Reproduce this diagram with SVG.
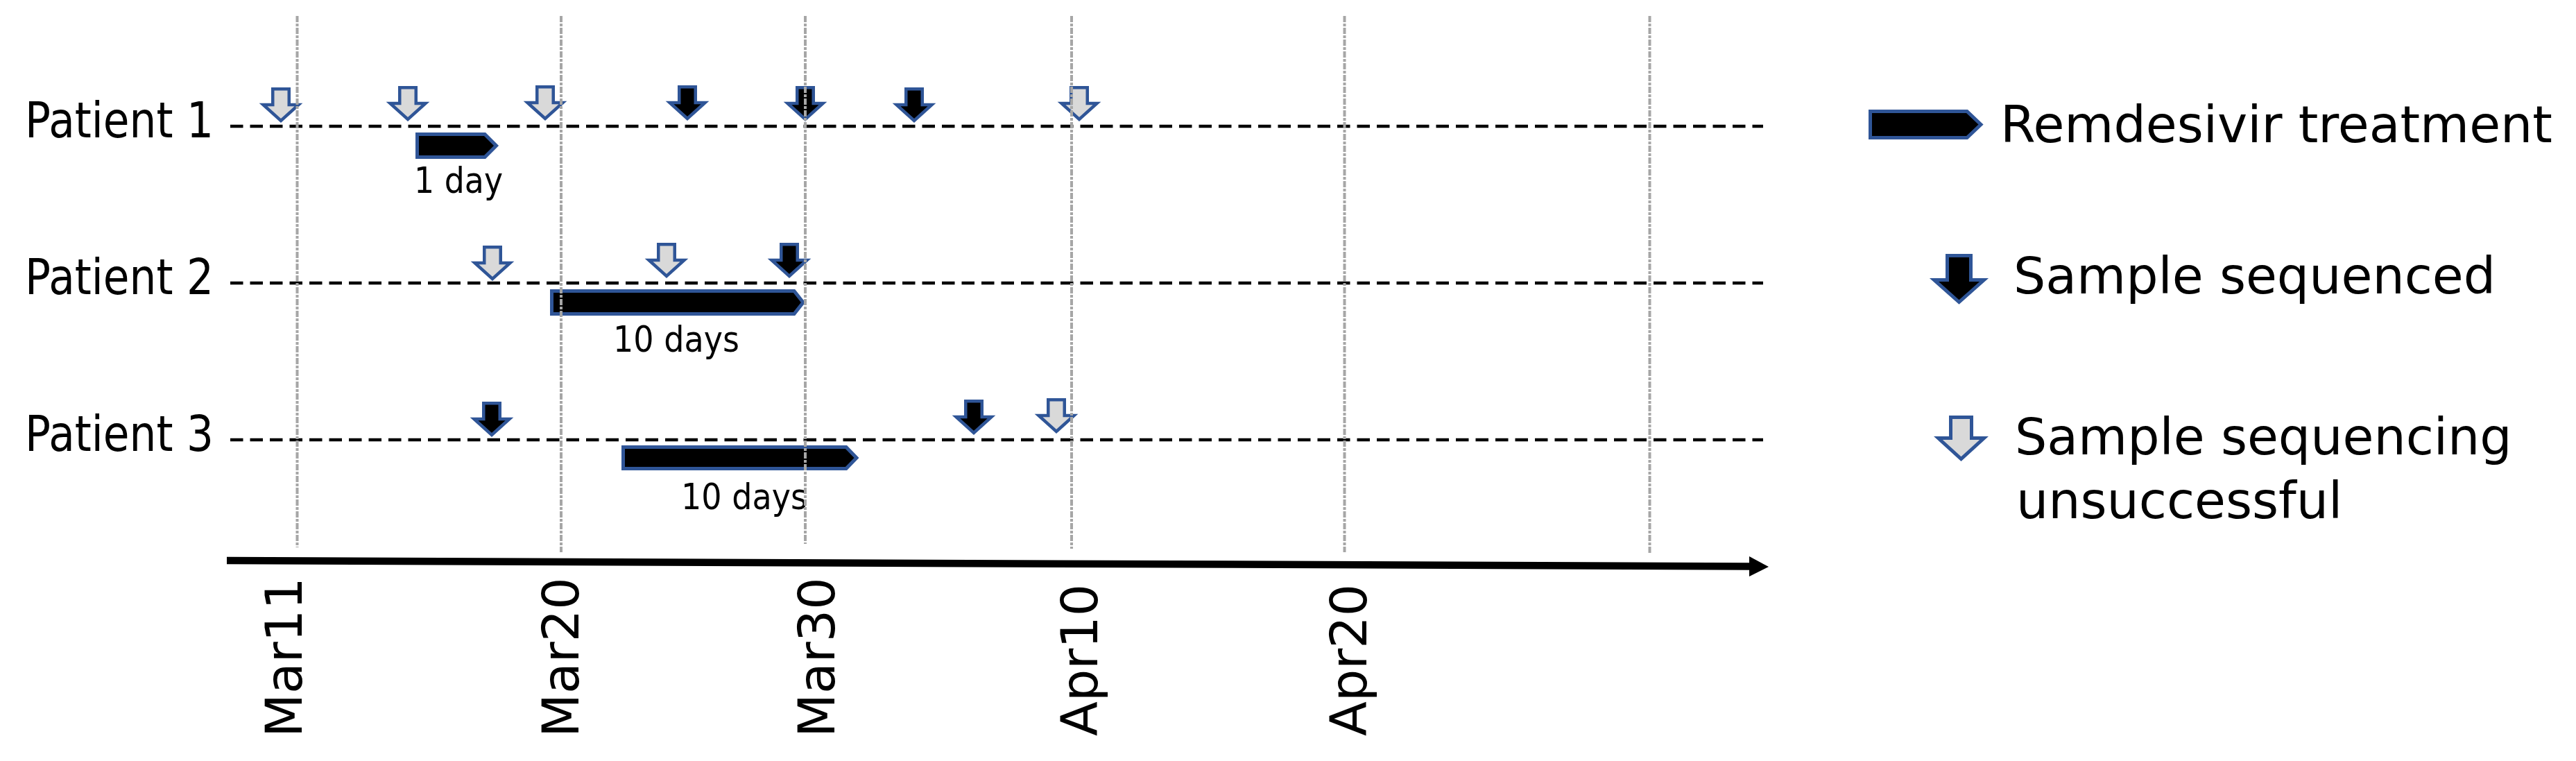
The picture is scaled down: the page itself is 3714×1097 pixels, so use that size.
<svg xmlns="http://www.w3.org/2000/svg" xmlns:xlink="http://www.w3.org/1999/xlink" width="3714" height="1097" viewBox="0 0 3714 1097">
<style>
.lbl{font-family:"DejaVu Sans","Verdana",sans-serif;fill:#000}
.pat{font-family:"DejaVu Sans","Verdana",sans-serif;font-size:72px;fill:#000}
.dur{font-family:"DejaVu Sans","Verdana",sans-serif;font-size:51px;fill:#000}
.date{font-family:"DejaVu Sans","Verdana",sans-serif;font-size:73px;fill:#000}
.leg{font-family:"DejaVu Sans","Verdana",sans-serif;font-size:73px;fill:#000}
.row{stroke:#000;stroke-width:4.3;stroke-dasharray:18.5 10;fill:none}
.grid{stroke:#a6a6a6;stroke-width:4;stroke-dasharray:9 2 4 2;fill:none}
.ok{fill:#000;stroke:#2f5597;stroke-width:4.5;stroke-linejoin:miter}
.fail{fill:#d9d9d9;stroke:#2f5597;stroke-width:4.5;stroke-linejoin:miter}
.bar{fill:#000;stroke:#2f5597;stroke-width:5;stroke-linejoin:miter}
</style>
<defs>
<path id="arr" d="M -11.75,-48.75 H 11.75 V -26 H 25.5 L 0,-3 L -25.5,-26 H -11.75 Z"/>
</defs>
<rect width="3714" height="1097" fill="#fff"/>

<g id="connectors">
<line class="row" x1="332" y1="182" x2="2542" y2="182"/>
<line class="row" x1="332" y1="408" x2="2542" y2="408"/>
<line class="row" x1="332" y1="634" x2="2542" y2="634"/>
<line x1="327" y1="808" x2="2524" y2="816.5" stroke="#000" stroke-width="10.5"/>
<polygon points="2522,802 2550,817 2522,831" fill="#000"/>
</g>

<g id="patient1">
<text class="pat" x="36" y="198" textLength="272" lengthAdjust="spacingAndGlyphs">Patient 1</text>
<use xlink:href="#arr" class="fail" x="405" y="177"/>
<use xlink:href="#arr" class="fail" x="588" y="175"/>
<use xlink:href="#arr" class="fail" x="786" y="174"/>
<use xlink:href="#arr" class="ok" x="991" y="174"/>
<use xlink:href="#arr" class="ok" x="1161" y="175"/>
<use xlink:href="#arr" class="ok" x="1318" y="177"/>
<use xlink:href="#arr" class="fail" x="1556" y="175"/>
<path class="bar" d="M 601.5,193.5 H 699 L 715.5,210 L 699,226.5 H 601.5 Z"/>
<text class="dur" x="597" y="278" textLength="128" lengthAdjust="spacingAndGlyphs">1 day</text>
</g>

<g id="patient2">
<text class="pat" x="36" y="424" textLength="272" lengthAdjust="spacingAndGlyphs">Patient 2</text>
<use xlink:href="#arr" class="fail" x="710" y="405"/>
<use xlink:href="#arr" class="fail" x="961" y="401"/>
<use xlink:href="#arr" class="ok" x="1138" y="401"/>
<path class="bar" d="M 795.5,419.5 H 1145 L 1158,436 L 1145,452.5 H 795.5 Z"/>
<text class="dur" x="884" y="507" textLength="182" lengthAdjust="spacingAndGlyphs">10 days</text>
</g>

<g id="patient3">
<text class="pat" x="36" y="650" textLength="272" lengthAdjust="spacingAndGlyphs">Patient 3</text>
<use xlink:href="#arr" class="ok" x="709" y="630"/>
<use xlink:href="#arr" class="ok" x="1404" y="627"/>
<use xlink:href="#arr" class="fail" x="1523" y="625"/>
<path class="bar" d="M 898.5,644.5 H 1220 L 1235,660 L 1220,675.5 H 898.5 Z"/>
<text class="dur" x="982" y="734" textLength="182" lengthAdjust="spacingAndGlyphs">10 days</text>
</g>

<g id="gridlines">
<line class="grid" x1="428.5" y1="23" x2="428.5" y2="789"/>
<line class="grid" x1="809" y1="23" x2="809" y2="796"/>
<line class="grid" x1="1161" y1="23" x2="1161" y2="784"/>
<line class="grid" x1="1545" y1="23" x2="1545" y2="791"/>
<line class="grid" x1="1938.5" y1="23" x2="1938.5" y2="796"/>
<line class="grid" x1="2378.5" y1="23" x2="2378.5" y2="797"/>
</g>

<g id="dates">
<text class="date" transform="translate(435,1063) rotate(-90)">Mar11</text>
<text class="date" transform="translate(834,1063) rotate(-90)">Mar20</text>
<text class="date" transform="translate(1203,1063) rotate(-90)">Mar30</text>
<text class="date" transform="translate(1582,1061) rotate(-90)">Apr10</text>
<text class="date" transform="translate(1970,1061) rotate(-90)">Apr20</text>
</g>

<g id="legend-treatment">
<path class="bar" d="M 2696.5,160.5 H 2836 L 2856,179.5 L 2836,198.5 H 2696.5 Z"/>
<text class="leg" x="2884" y="205">Remdesivir treatment</text>
</g>
<g id="legend-sequenced">
<path class="ok" style="stroke-width:5" d="M 2807.5,368.5 H 2841.5 V 403.5 H 2860.5 L 2824.5,435.5 L 2788.5,403.5 H 2807.5 Z"/>
<text class="leg" x="2903" y="423">Sample sequenced</text>
</g>
<g id="legend-unsuccessful">
<path class="fail" style="stroke-width:5" d="M 2812.5,601.5 H 2842.5 V 631.5 H 2860.5 L 2827.5,661.5 L 2794.5,631.5 H 2812.5 Z"/>
<text class="leg" x="2905" y="655">Sample sequencing</text>
<text class="leg" x="2907" y="747">unsuccessful</text>
</g>
</svg>
